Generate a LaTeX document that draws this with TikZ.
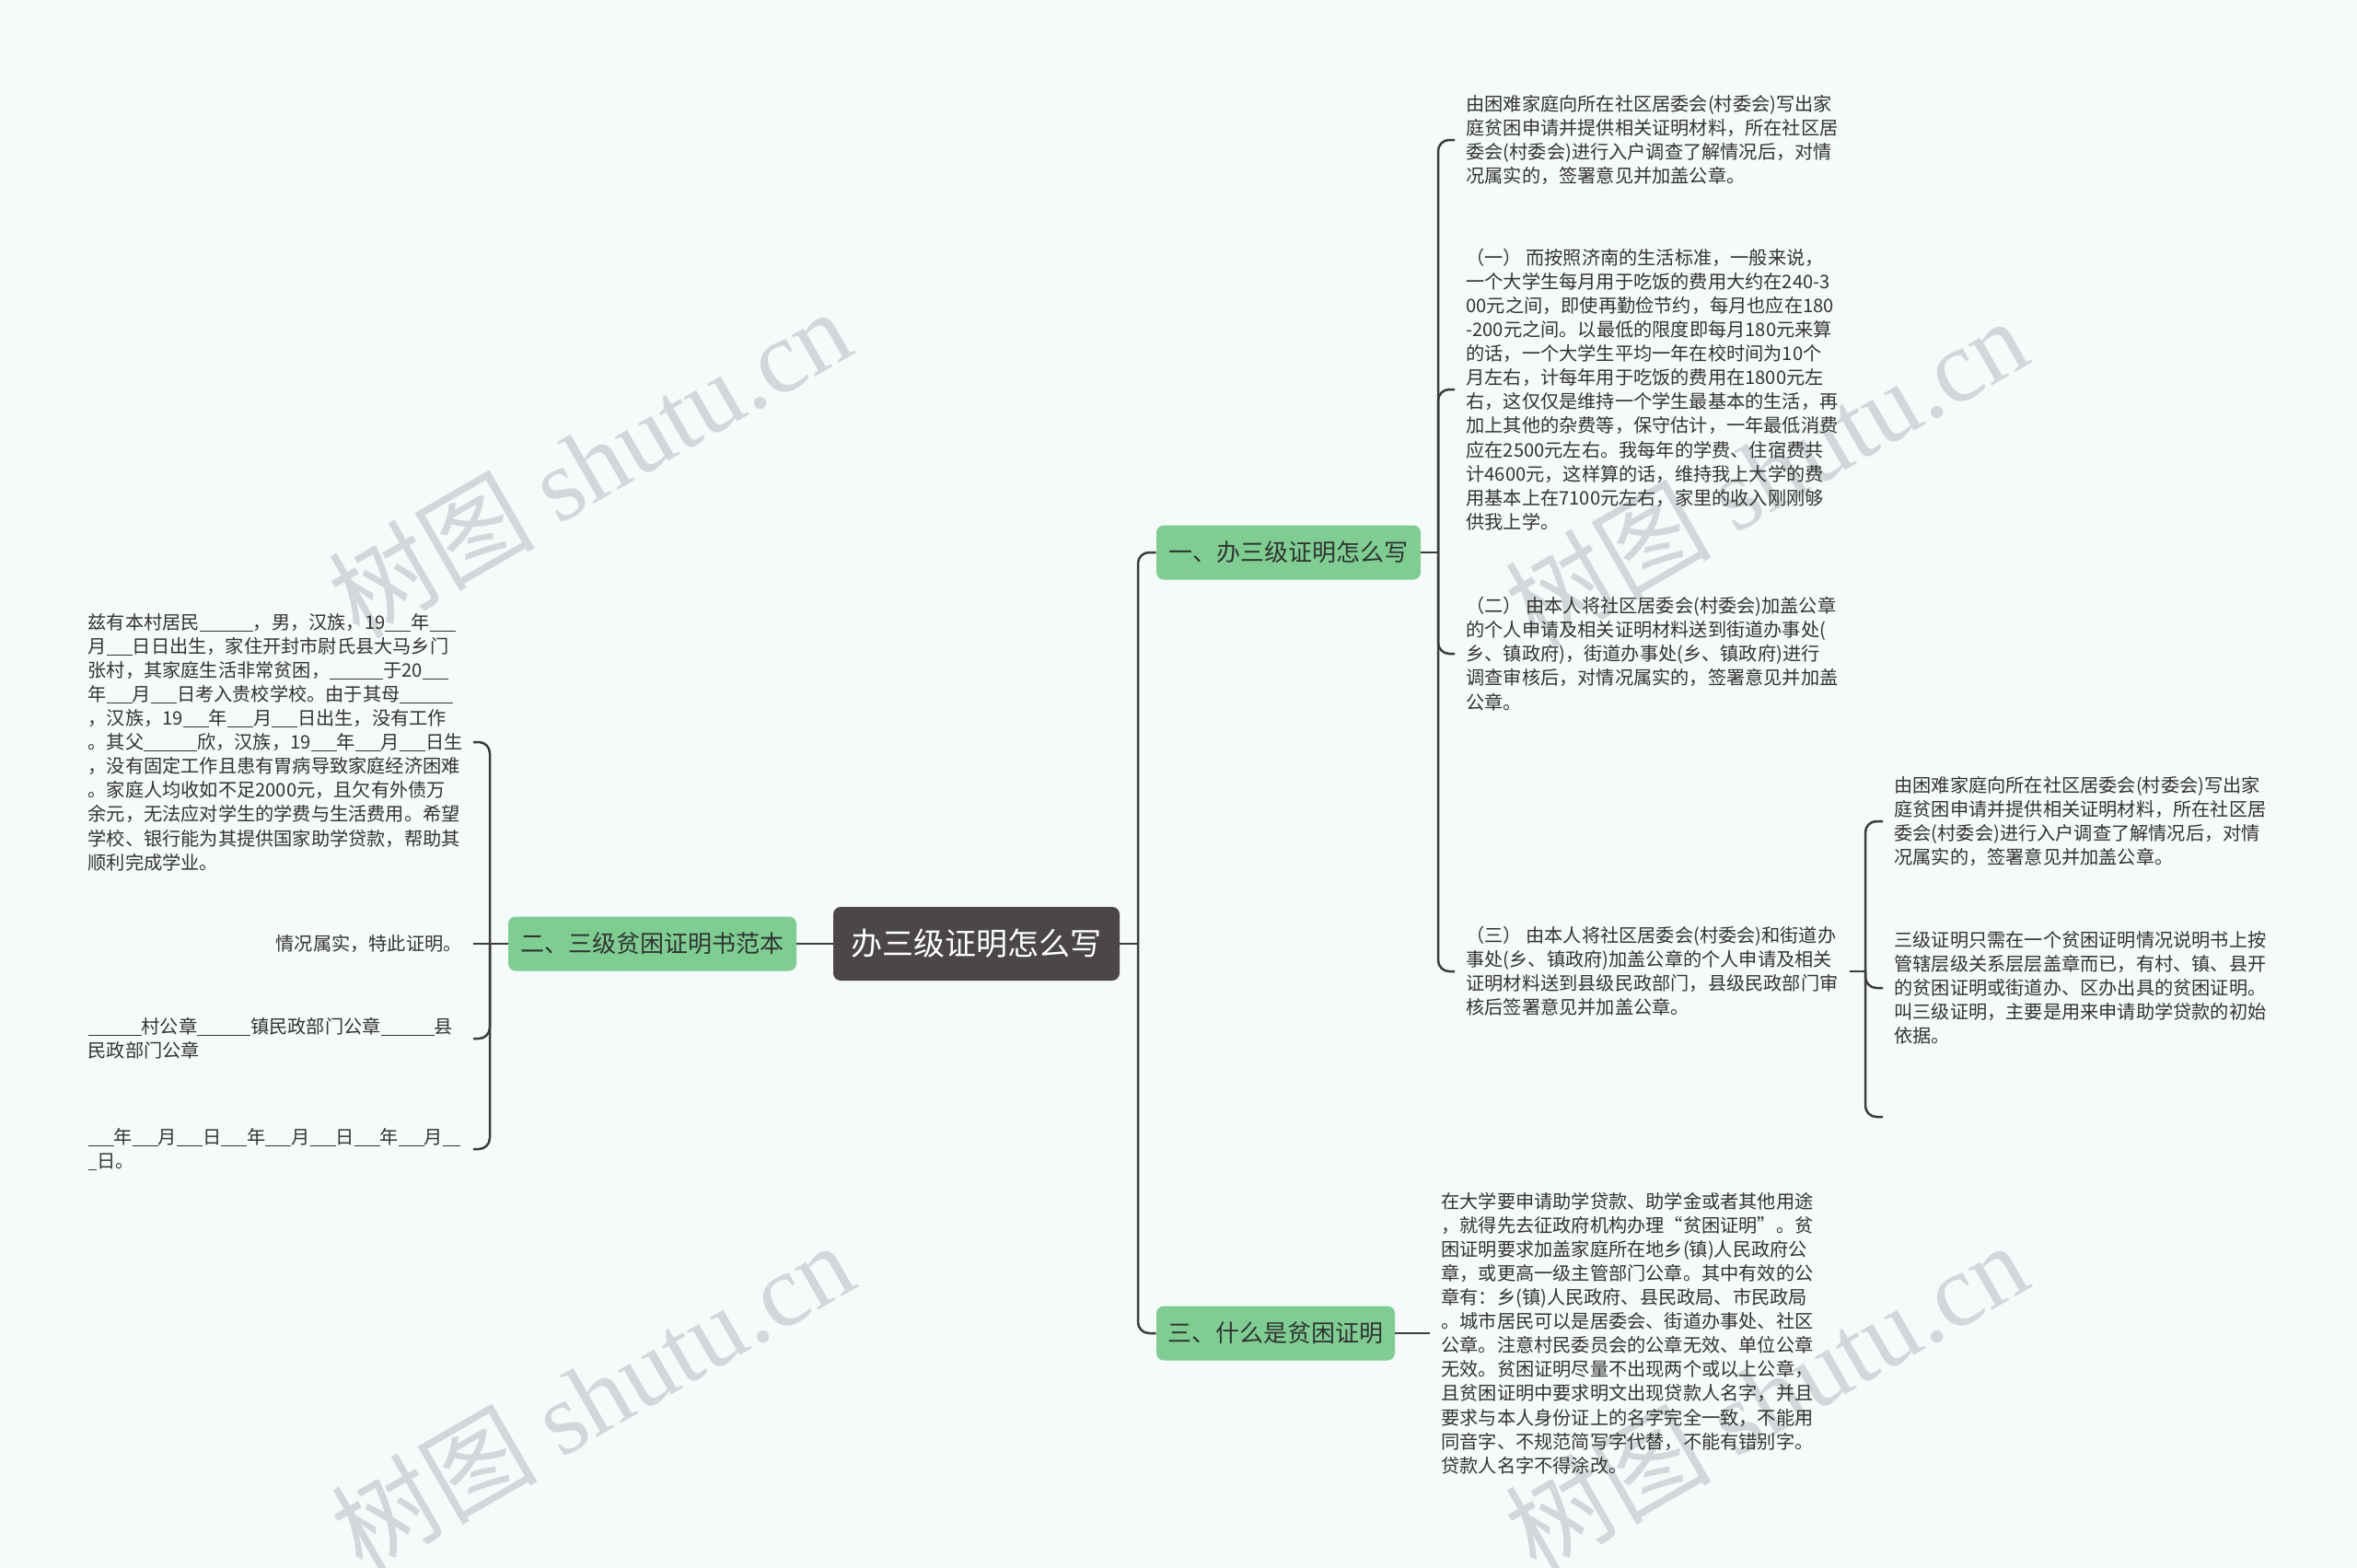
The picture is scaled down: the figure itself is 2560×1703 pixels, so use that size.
\documentclass[tikz,border=0pt]{standalone}
\usepackage{fontspec}
\setmainfont{Noto Sans CJK SC}
\newfontfamily\wmfont{Liberation Serif}
\usepackage{xcolor}
\definecolor{MapBack}{HTML}{F6FAFB}
\definecolor{MapLine}{HTML}{3C3C3C}
\definecolor{MapRoot}{HTML}{4B4747}
\definecolor{MapGreen}{HTML}{7ECE92}
\definecolor{MapInk}{HTML}{333333}
\definecolor{MapMark}{HTML}{D3D7D9}
\usepackage{tikz}
\newcommand{\gapline}[1]{\rule[-1.3pt]{#1}{0.55pt}}
\newcommand{\shortgap}{\gapline{14pt}}
\newcommand{\longgap}{\gapline{29pt}}

\begin{document}
\begin{tikzpicture}[
  x=0.5pt, y=-0.5pt,
  root/.style={fill=MapRoot, text=white, rounded corners=4pt,
               font=\fontsize{17}{20}\selectfont,
               minimum width=155.5pt, minimum height=40pt, inner sep=0pt},
  branch/.style={fill=MapGreen, text=MapInk, rounded corners=4pt,
                 font=\fontsize{13}{16}\selectfont,
                 minimum height=29.5pt, inner sep=0pt},
  leaf/.style={text=MapInk, align=left, inner xsep=6pt, inner ysep=0pt,
               font=\fontsize{10.1}{13.05}\selectfont},
  lleaf/.style={leaf, text width=203pt, anchor=east},
  link/.style={draw=MapLine, line width=1.25pt, rounded corners=6pt},
  wm/.style={text=MapMark, rotate=30, font=\fontsize{56}{60}\selectfont},
]
\fill[MapBack] (0,0) rectangle (2560,1703);
\useasboundingbox (0,0) rectangle (2560,1703);

% watermark
\node[wm] (wm1) at (640,502) {树图 {\wmfont shutu.cn}};
\node[wm] (wm2) at (1918,512) {树图 {\wmfont shutu.cn}};
\node[wm] (wm3) at (643,1516) {树图 {\wmfont shutu.cn}};
\node[wm] (wm4) at (1918,1516) {树图 {\wmfont shutu.cn}};

% centre and main branches
\node[root] (root) at (1060.5,1025) {办三级证明怎么写};
\node[branch, minimum width=156.5pt] (b2) at (708.5,1025) {二、三级贫困证明书范本};
\node[branch, minimum width=143.5pt] (b1) at (1399.5,600) {一、办三级证明怎么写};
\node[branch, minimum width=129.5pt] (b3) at (1385.5,1448) {三、什么是贫困证明};

\coordinate (rs) at (1236,0);
\coordinate (ls) at (532,0);
\coordinate (sp1) at (1562,0);
\coordinate (sp2) at (2026,0);

% branch one
\node[leaf, anchor=west] (b1a) at (1580,152)
  {由困难家庭向所在社区居委会(村委会)写出家\\
   庭贫困申请并提供相关证明材料，所在社区居\\
   委会(村委会)进行入户调查了解情况后，对情\\
   况属实的，签署意见并加盖公章。};
\node[leaf, anchor=west] (b1b) at (1580,423)
  {（一）\ 而按照济南的生活标准，一般来说，\\
   一个大学生每月用于吃饭的费用大约在240-3\\
   00元之间，即使再勤俭节约，每月也应在180\\
   -200元之间。以最低的限度即每月180元来算\\
   的话，一个大学生平均一年在校时间为10个\\
   月左右，计每年用于吃饭的费用在1800元左\\
   右，这仅仅是维持一个学生最基本的生活，再\\
   加上其他的杂费等，保守估计，一年最低消费\\
   应在2500元左右。我每年的学费、住宿费共\\
   计4600元，这样算的话，维持我上大学的费\\
   用基本上在7100元左右，家里的收入刚刚够\\
   供我上学。};
\node[leaf, anchor=west] (b1c) at (1580,710)
  {（二）\ 由本人将社区居委会(村委会)加盖公章\\
   的个人申请及相关证明材料送到街道办事处(\\
   乡、镇政府)，街道办事处(乡、镇政府)进行\\
   调查审核后，对情况属实的，签署意见并加盖\\
   公章。};
\node[leaf, anchor=west] (b1d) at (1580,1055)
  {（三）\ 由本人将社区居委会(村委会)和街道办\\
   事处(乡、镇政府)加盖公章的个人申请及相关\\
   证明材料送到县级民政部门，县级民政部门审\\
   核后签署意见并加盖公章。};
\node[leaf, anchor=west] (b1d1) at (2045,892)
  {由困难家庭向所在社区居委会(村委会)写出家\\
   庭贫困申请并提供相关证明材料，所在社区居\\
   委会(村委会)进行入户调查了解情况后，对情\\
   况属实的，签署意见并加盖公章。};
\node[leaf, anchor=west] (b1d2) at (2045,1073)
  {三级证明只需在一个贫困证明情况说明书上按\\
   管辖层级关系层层盖章而已，有村、镇、县开\\
   的贫困证明或街道办、区办出具的贫困证明。\\
   叫三级证明，主要是用来申请助学贷款的初始\\
   依据。};
\coordinate (b1d3) at (2045,1213);

% branch two
\node[lleaf] (b2a) at (514,806)
  {兹有本村居民\longgap，男，汉族，19\shortgap 年\shortgap\\
   月\shortgap 日日出生，家住开封市尉氏县大马乡门\\
   张村，其家庭生活非常贫困，\longgap 于20\shortgap\\
   年\shortgap 月\shortgap 日考入贵校学校。由于其母\longgap\\
   ，汉族，19\shortgap 年\shortgap 月\shortgap 日出生，没有工作\\
   。其父\longgap 欣，汉族，19\shortgap 年\shortgap 月\shortgap 日生\\
   ，没有固定工作且患有胃病导致家庭经济困难\\
   。家庭人均收如不足2000元，且欠有外债万\\
   余元，无法应对学生的学费与生活费用。希望\\
   学校、银行能为其提供国家助学贷款，帮助其\\
   顺利完成学业。};
\node[lleaf, align=right] (b2b) at (514,1025) {情况属实，特此证明。};
\node[lleaf] (b2c) at (514,1128)
  {\longgap 村公章\longgap 镇民政部门公章\longgap 县\\
   民政部门公章};
\node[lleaf] (b2d) at (514,1248)
  {\shortgap 年\shortgap 月\shortgap 日\shortgap 年\shortgap 月\shortgap 日\shortgap 年\shortgap 月\gapline{9.3pt}\\
   \gapline{4.7pt}日。};

% branch three
\node[leaf, anchor=west] (b3a) at (1553,1448)
  {在大学要申请助学贷款、助学金或者其他用途\\
   ，就得先去征政府机构办理“贫困证明”。贫\\
   困证明要求加盖家庭所在地乡(镇)人民政府公\\
   章，或更高一级主管部门公章。其中有效的公\\
   章有：乡(镇)人民政府、县民政局、市民政局\\
   。城市居民可以是居委会、街道办事处、社区\\
   公章。注意村民委员会的公章无效、单位公章\\
   无效。贫困证明尽量不出现两个或以上公章，\\
   且贫困证明中要求明文出现贷款人名字，并且\\
   要求与本人身份证上的名字完全一致，不能用\\
   同音字、不规范简写字代替，不能有错别字。\\
   贷款人名字不得涂改。};

% connectors
\draw[link] (root.east) -- (rs |- root.east);
\draw[link] (b1.west) -| (rs |- root.east) |- (b3.west);
\draw[link] (root.west) -- (b2.east);

\draw[link] (b1.east) -- (sp1 |- b1.east);
\draw[link] (b1a.west) -| (sp1 |- b1.east) |- (b1d.west);
\draw[link] (sp1 |- b1.east) |- (b1b.west);
\draw[link] (sp1 |- b1.east) |- (b1c.west);

\draw[link] (b1d.east) -- (sp2 |- b1d.east);
\draw[link] (b1d1.west) -| (sp2 |- b1d.east) |- (b1d3);
\draw[link] (sp2 |- b1d.east) |- (b1d2.west);

\draw[link] (b2.west) -- (b2b.east);
\draw[link] (b2a.east) -| (ls |- b2.west) |- (b2d.east);
\draw[link] (ls |- b2.west) |- (b2c.east);

\draw[link] (b3.east) -- (b3a.west);
\end{tikzpicture}
\end{document}
